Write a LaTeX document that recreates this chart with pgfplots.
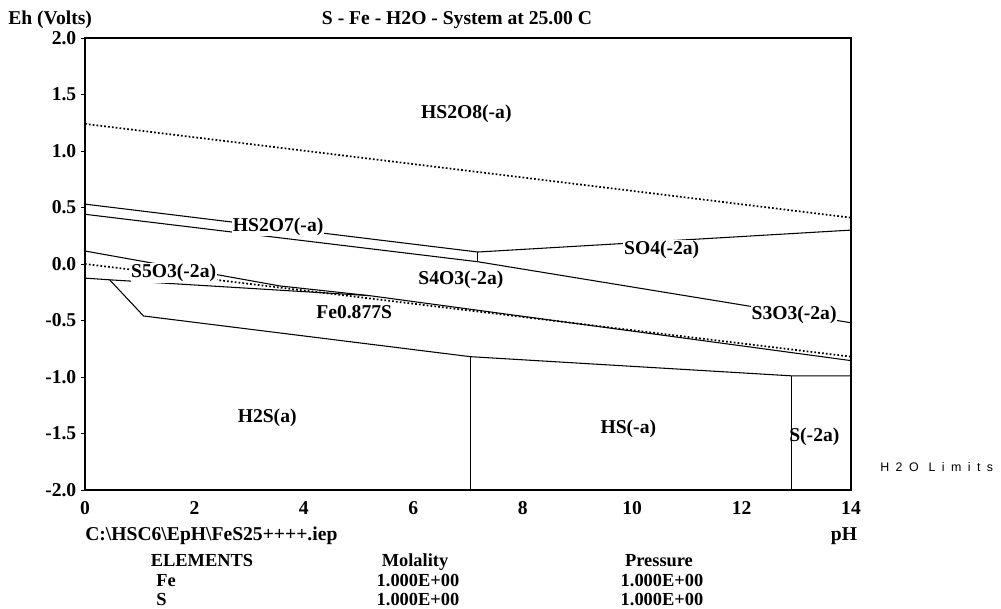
\documentclass[border=0pt]{standalone}
\usepackage{fontspec}
\setmainfont{Liberation Serif}
\newfontfamily\sansf{Liberation Sans}
\usepackage{pgfplots}
\pgfplotsset{compat=1.18}
\newcommand\lf{\fontsize{14.7}{16}\selectfont\bfseries}
\newcommand\smf{\fontsize{13.8}{15}\selectfont\bfseries}
\tikzset{
  lbl/.style={font=\lf, inner sep=0.5pt},
  lblw/.style={font=\lf, inner sep=0.5pt, fill=white},
  tx/.style={font=\lf, inner sep=0, anchor=base},
  ts/.style={font=\smf, inner sep=0, anchor=base},
}
\pgfplotsset{bl/.style={black, no markers, solid, line width=0.8pt},
  dl/.style={black, no markers, dash pattern=on 1.3pt off 1.6pt, line width=1.3pt}}
\begin{document}
\begin{tikzpicture}
\useasboundingbox (0,0) rectangle (750.75pt,456pt);
\begin{axis}[
  at={(63.75pt,88.5pt)}, anchor=south west,
  scale only axis, width=574.5pt, height=339pt,
  xmin=0,xmax=14,ymin=-2,ymax=2,
  xtick={0,2,4,6,8,10,12,14}, xticklabels={0,2,4,6,8,10,12,14},
  ytick={-2,-1.5,-1,-0.5,0,0.5,1,1.5,2},
  yticklabels={-2.0,-1.5,-1.0,-0.5,0.0,0.5,1.0,1.5,2.0},
  tick align=outside, major tick length=3pt,
  ytick pos=left,
  xtick style={draw=none},
  ytick style={black, line width=0.6pt},
  ticklabel style={font=\lf},
  xticklabel style={yshift=-2pt},
  axis line style={line width=1.6pt},
  clip=false,
]
% water limits
\addplot[dl] coordinates {(0,1.24) (14,0.41)};
\addplot[dl] coordinates {(0,0.0) (14,-0.82)};
% solid boundaries
\addplot[bl] coordinates {(0,0.53) (7.18,0.106)};
\addplot[bl] coordinates {(0,0.44) (7.18,0.02) (14,-0.52)};
\addplot[bl] coordinates {(7.18,0.106) (7.18,0.02)};
\addplot[bl] coordinates {(7.18,0.106) (14,0.30)};
\addplot[bl] coordinates {(0,0.115) (3.56,-0.194) (5.2,-0.28) (14,-0.855)};
\addplot[bl] coordinates {(0,-0.125) (0.45,-0.14) (5.2,-0.28)};
\addplot[bl] coordinates {(0.45,-0.14) (1.07,-0.46) (7.04,-0.82) (12.92,-0.99) (14,-0.99)};
\addplot[bl] coordinates {(7.04,-0.82) (7.04,-2)};
\addplot[bl] coordinates {(12.92,-0.99) (12.92,-2)};
% labels
\node[lbl] at (axis cs:6.97,1.33) {HS2O8(-a)};
\node[lblw] at (axis cs:3.53,0.33) {HS2O7(-a)};
\node[lblw] at (axis cs:10.54,0.124) {SO4(-2a)};
\node[lbl] at (axis cs:6.87,-0.14) {S4O3(-2a)};
\node[lblw] at (axis cs:1.62,-0.08) {S5O3(-2a)};
\node[lbl] at (axis cs:4.92,-0.425) {Fe0.877S};
\node[lblw] at (axis cs:12.96,-0.45) {S3O3(-2a)};
\node[lbl] at (axis cs:3.33,-1.36) {H2S(a)};
\node[lbl] at (axis cs:9.93,-1.46) {HS(-a)};
\node[lbl] at (axis cs:13.33,-1.53) {S(-2a)};
\end{axis}
\node[tx, anchor=base west] at (6pt,437.5pt) {Eh (Volts)};
\node[tx] at (342.75pt,437.5pt) {S - Fe - H2O - System at 25.00 C};
\node[anchor=west, inner sep=0] at (660pt,105.75pt) {\sansf\fontsize{9.3}{10}\selectfont\addfontfeature{LetterSpace=52}H2O Limits};
\node[tx, anchor=base west] at (63.75pt,51pt) {C:\textbackslash HSC6\textbackslash EpH\textbackslash FeS25++++.iep};
\node[tx] at (633pt,51pt) {pH};
\node[ts] at (151.5pt,31pt) {ELEMENTS};
\node[ts, anchor=base west] at (117pt,16.5pt) {Fe};
\node[ts, anchor=base west] at (117pt,2.2pt) {S};
\node[ts] at (311.25pt,31pt) {Molality};
\node[ts] at (313.5pt,16.5pt) {1.000E+00};
\node[ts] at (313.5pt,2.2pt) {1.000E+00};
\node[ts] at (494.25pt,31pt) {Pressure};
\node[ts] at (496.5pt,16.5pt) {1.000E+00};
\node[ts] at (496.5pt,2.2pt) {1.000E+00};
\end{tikzpicture}
\end{document}
